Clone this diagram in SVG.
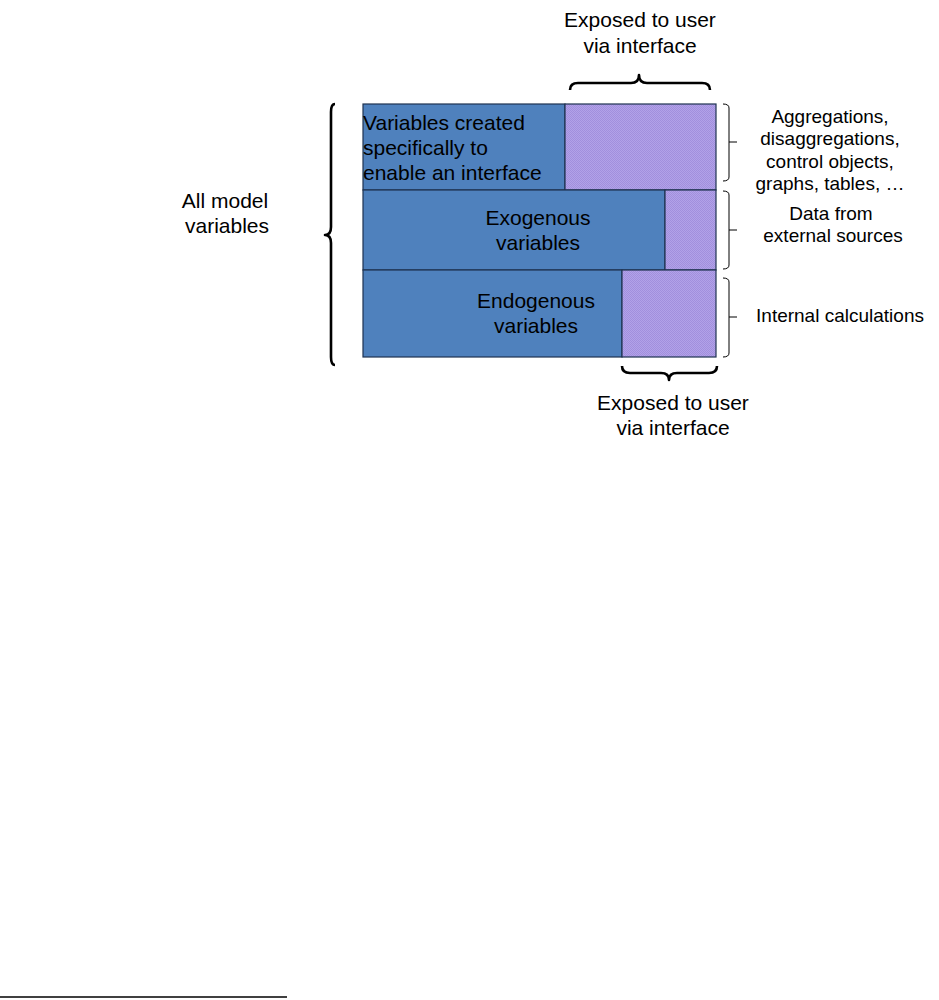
<svg xmlns="http://www.w3.org/2000/svg" width="939" height="1000" viewBox="0 0 939 1000">
<defs>
<pattern id="hatch" width="2" height="2" patternUnits="userSpaceOnUse">
<rect width="2" height="2" fill="#b2a2e8"/>
<rect width="1" height="1" fill="#a18fdd"/>
<rect x="1" y="1" width="1" height="1" fill="#a18fdd"/>
</pattern>
</defs>
<style>
text{font-family:"Liberation Sans",Arial,sans-serif;fill:#000}
.big{font-size:21px}
.sm{font-size:19px}
.mid{text-anchor:middle}
.blue{fill:#4f81bd;stroke:#1f3350;stroke-width:1.2}
.pur{fill:url(#hatch);stroke:#1f3350;stroke-width:1.2}
.brace{fill:none;stroke:#000;stroke-width:2.6;stroke-linejoin:round}
.brk{fill:none;stroke:#000;stroke-width:1}
</style>
<rect width="939" height="1000" fill="#fff"/>
<g id="row-interface">
<rect class="blue" x="363" y="104" width="202" height="86"/>
<rect class="pur" x="565" y="104" width="151" height="86"/>
<text class="big" x="363" y="130">Variables created</text>
<text class="big" x="363" y="155">specifically to</text>
<text class="big" x="363" y="180">enable an interface</text>
</g>
<g id="row-exogenous">
<rect class="blue" x="363" y="190" width="302" height="80"/>
<rect class="pur" x="665" y="190" width="51" height="80"/>
<text class="big mid" x="538" y="225">Exogenous</text>
<text class="big mid" x="538" y="250">variables</text>
</g>
<g id="row-endogenous">
<rect class="blue" x="363" y="270" width="259" height="87"/>
<rect class="pur" x="622" y="270" width="94" height="87"/>
<text class="big mid" x="536" y="308">Endogenous</text>
<text class="big mid" x="536" y="333">variables</text>
</g>
<g id="label-all">
<text class="big mid" x="225" y="208">All model</text>
<text class="big mid" x="227" y="233">variables</text>
</g>
<g id="label-top">
<text class="big mid" x="640" y="27">Exposed to user</text>
<text class="big mid" x="640" y="53">via interface</text>
</g>
<g id="label-bottom">
<text class="big mid" x="673" y="410">Exposed to user</text>
<text class="big mid" x="673" y="435">via interface</text>
</g>
<g id="label-right1">
<text class="sm mid" x="830" y="123">Aggregations,</text>
<text class="sm mid" x="830" y="145">disaggregations,</text>
<text class="sm mid" x="830" y="168">control objects,</text>
<text class="sm mid" x="830" y="190">graphs, tables, …</text>
</g>
<g id="label-right2">
<text class="sm mid" x="831" y="220">Data from</text>
<text class="sm mid" x="833" y="242">external sources</text>
</g>
<g id="label-right3">
<text class="sm mid" x="840" y="322">Internal calculations</text>
</g>
<g id="connectors">
<path class="brace" d="M570,90 Q570,83 578,83 L631,83 Q639,83 639,75 Q639,83 647,83 L702,83 Q710,83 710,90"/>
<path class="brace" d="M622,366 Q622,373 630,373 L661,373 Q669,373 669,380 Q669,373 677,373 L709,373 Q717,373 717,366"/>
<path class="brace" d="M335,104 Q331,104 331,112 L331,227 Q331,235 325,235 Q331,235 331,243 L331,357 Q331,365 335,365"/>
<path class="brk" d="M723,104 Q729,104 729,108 L729,177 Q729,181 723,181 M729,142 L737,142"/>
<path class="brk" d="M723,191 Q729,191 729,195 L729,265 Q729,269 723,269 M729,230 L737,230"/>
<path class="brk" d="M723,278 Q729,278 729,282 L729,353 Q729,357 723,357 M729,317 L737,317"/>
<line x1="0" y1="997" x2="287" y2="997" stroke="#000" stroke-width="1.5"/>
</g>
</svg>
